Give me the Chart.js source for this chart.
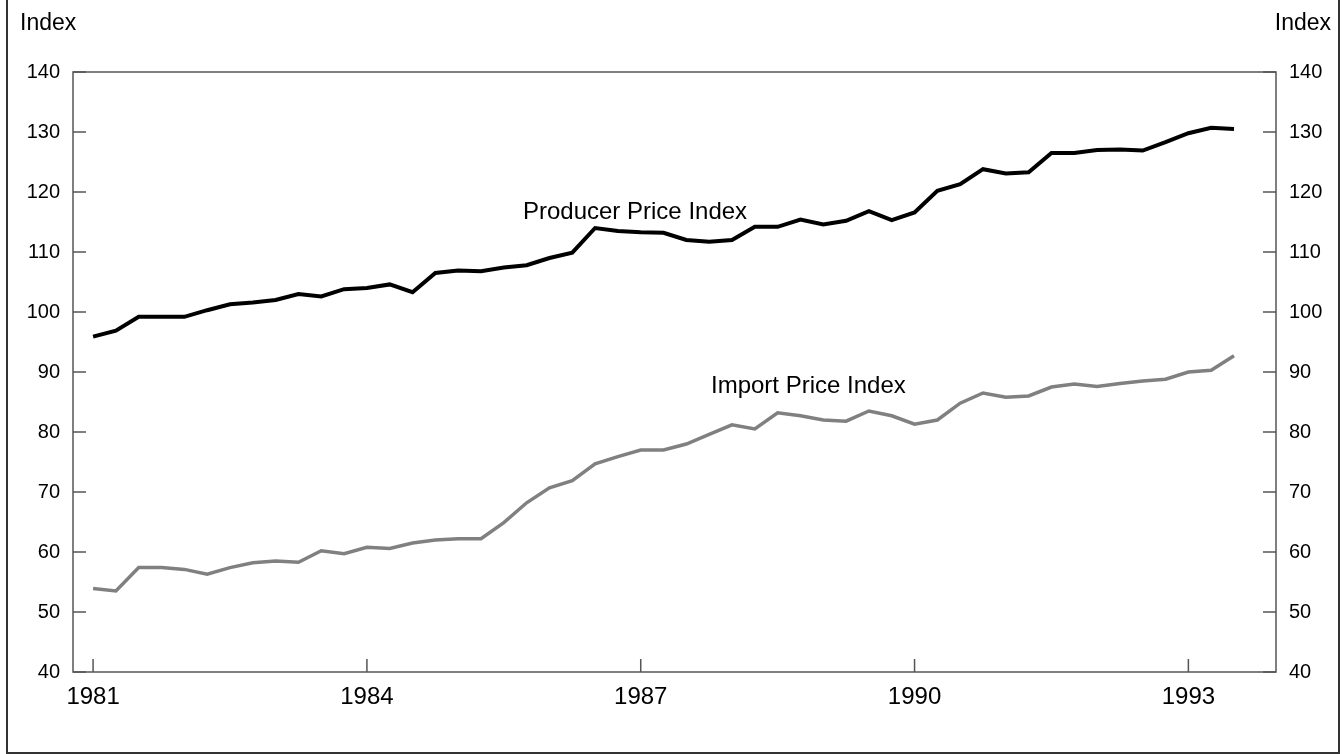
<!DOCTYPE html>
<html>
<head>
<meta charset="utf-8">
<title>Producer and Import Price Indexes</title>
<script src="https://cdn.jsdelivr.net/npm/chart.js@4.4.1/dist/chart.umd.min.js"></script>
<style>
    html, body { margin: 0; padding: 0; background: #fff; }
    canvas { display: block; }
</style>
</head>
<body>
<canvas id="priceChart" width="1342" height="754"></canvas>
<script>
// quarterly data, 1981 Q1 through 1993 Q3
const startYear = 1981;
const producerIndex = [
    95.9, 96.9, 99.2, 99.2, 99.2, 100.3, 101.3, 101.6, 102.0, 103.0,
    102.6, 103.8, 104.0, 104.6, 103.3, 106.5, 106.9, 106.8, 107.4, 107.8,
    109.0, 109.9, 114.0, 113.5, 113.3, 113.2, 112.0, 111.7, 112.0, 114.2,
    114.2, 115.4, 114.6, 115.2, 116.8, 115.3, 116.6, 120.2, 121.3, 123.8,
    123.1, 123.3, 126.5, 126.5, 127.0, 127.1, 126.9, 128.3, 129.8, 130.7,
    130.5
];
const importIndex = [
    53.9, 53.5, 57.4, 57.4, 57.1, 56.3, 57.4, 58.2, 58.5, 58.3,
    60.2, 59.7, 60.8, 60.6, 61.5, 62.0, 62.2, 62.2, 64.9, 68.2,
    70.7, 71.9, 74.7, 75.9, 77.0, 77.0, 78.0, 79.6, 81.2, 80.5,
    83.2, 82.7, 82.0, 81.8, 83.5, 82.7, 81.3, 82.0, 84.8, 86.5,
    85.8, 86.0, 87.5, 88.0, 87.6, 88.1, 88.5, 88.8, 90.0, 90.3,
    92.7
];
const yearTicks = [1981, 1984, 1987, 1990, 1993];
const indexTicks = [40, 50, 60, 70, 80, 90, 100, 110, 120, 130, 140];

// x position of each quarter (year + quarter/4)
const quarters = producerIndex.map((v, i) => startYear + i / 4);

const FONT = '"Liberation Sans", Arial, Helvetica, sans-serif';
const AXIS_GREY = '#555555';

const toPoints = (vals) => vals.map((v, i) => ({ x: quarters[i], y: v }));

// frame, inward tick marks and text labels
const decorations = {
    id: 'decorations',
    afterDraw(chart) {
        const ctx = chart.ctx;
        const area = chart.chartArea;
        const xs = chart.scales.x;
        const yl = chart.scales.yLeft;
        const yr = chart.scales.yRight;
        const tickLen = 13;
        ctx.save();

        // plot box
        ctx.strokeStyle = AXIS_GREY;
        ctx.lineWidth = 1.5;
        ctx.strokeRect(area.left, area.top, area.right - area.left, area.bottom - area.top);

        // ticks pointing into the plot
        ctx.beginPath();
        indexTicks.forEach(v => {
            const y = yl.getPixelForValue(v);
            ctx.moveTo(area.left, y);
            ctx.lineTo(area.left + tickLen, y);
            const y2 = yr.getPixelForValue(v);
            ctx.moveTo(area.right, y2);
            ctx.lineTo(area.right - tickLen, y2);
        });
        yearTicks.forEach(v => {
            const x = xs.getPixelForValue(v);
            ctx.moveTo(x, area.bottom);
            ctx.lineTo(x, area.bottom - tickLen);
        });
        ctx.stroke();

        // outer frame of the figure
        ctx.strokeStyle = '#333333';
        ctx.lineWidth = 2;
        ctx.beginPath();
        ctx.moveTo(7, 0);
        ctx.lineTo(7, 753);
        ctx.lineTo(1339, 753);
        ctx.lineTo(1339, 0);
        ctx.stroke();

        // axis unit labels
        ctx.fillStyle = '#000';
        ctx.textBaseline = 'alphabetic';
        ctx.font = '23px ' + FONT;
        ctx.textAlign = 'left';
        ctx.fillText('Index', 20, 30);
        ctx.textAlign = 'right';
        ctx.fillText('Index', 1331, 30);

        // series labels
        ctx.font = '24px ' + FONT;
        ctx.textAlign = 'left';
        ctx.fillText('Producer Price Index', xs.getPixelForValue(1985.71), yl.getPixelForValue(115.5));
        ctx.fillText('Import Price Index', xs.getPixelForValue(1987.77), yl.getPixelForValue(86.45));

        ctx.restore();
    }
};

const priceData = {
    datasets: [
        {
            label: 'Producer Price Index',
            data: toPoints(producerIndex),
            borderColor: '#000000',
            borderWidth: 4,
            pointRadius: 0,
            tension: 0,
            yAxisID: 'yLeft'
        },
        {
            label: 'Import Price Index',
            data: toPoints(importIndex),
            borderColor: '#808080',
            borderWidth: 3.5,
            pointRadius: 0,
            tension: 0,
            yAxisID: 'yLeft'
        }
    ]
};

const priceConfig = {
    type: 'line',
    data: priceData,
    options: {
        responsive: false,
        animation: false,
        layout: { padding: { top: 72, left: 0, right: 0, bottom: 0 } },
        plugins: {
            legend: { display: false },
            tooltip: { enabled: false },
            title: { display: false }
        },
        scales: {
            x: {
                type: 'linear',
                position: 'bottom',
                min: 1980.78,
                max: 1993.96,
                afterBuildTicks: (scale) => { scale.ticks = yearTicks.map(v => ({ value: v })); },
                afterFit: (scale) => { scale.height = 82; },
                grid: { drawOnChartArea: false, drawTicks: false },
                border: { display: false },
                ticks: {
                    color: '#000',
                    padding: 11,
                    maxRotation: 0,
                    font: { family: FONT, size: 24 },
                    callback: (v) => String(v)
                }
            },
            yLeft: {
                type: 'linear',
                position: 'left',
                min: 40,
                max: 140,
                afterBuildTicks: (scale) => { scale.ticks = indexTicks.map(v => ({ value: v })); },
                afterFit: (scale) => { scale.width = 73; },
                grid: { drawOnChartArea: false, drawTicks: false },
                border: { display: false },
                ticks: {
                    color: '#000',
                    padding: 13,
                    font: { family: FONT, size: 20 }
                }
            },
            yRight: {
                type: 'linear',
                position: 'right',
                min: 40,
                max: 140,
                afterBuildTicks: (scale) => { scale.ticks = indexTicks.map(v => ({ value: v })); },
                afterFit: (scale) => { scale.width = 66; },
                grid: { drawOnChartArea: false, drawTicks: false },
                border: { display: false },
                ticks: {
                    color: '#000',
                    padding: 13,
                    font: { family: FONT, size: 20 }
                }
            }
        }
    },
    plugins: [decorations]
};

const getPriceChart = document.getElementById('priceChart').getContext('2d');
const myPriceChart = new Chart(getPriceChart, priceConfig);
</script>
</body>
</html>
